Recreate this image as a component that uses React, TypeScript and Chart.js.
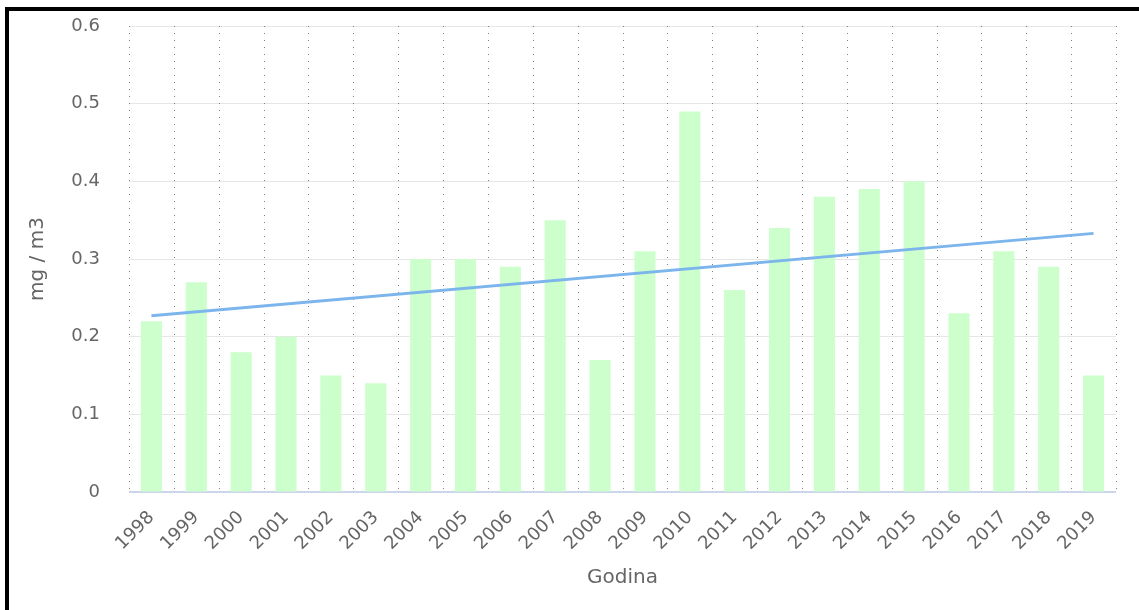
import React, { useEffect, useRef } from "react";
import { Chart, registerables } from "chart.js";

Chart.register(...registerables);

const years = ["1998","1999","2000","2001","2002","2003","2004","2005","2006","2007","2008","2009","2010","2011","2012","2013","2014","2015","2016","2017","2018","2019"];
const values = [0.22,0.27,0.18,0.20,0.15,0.14,0.30,0.30,0.29,0.35,0.17,0.31,0.49,0.26,0.34,0.38,0.39,0.40,0.23,0.31,0.29,0.15];
const trendStart = 0.227;
const trendEnd = 0.333;
const yTitle = "mg / m3";
const xTitle = "Godina";

export default function App() {
  const ref = useRef<HTMLCanvasElement | null>(null);
  useEffect(() => {
    if (!ref.current) return;
    const trend = years.map((_, i) => (i === 0 ? trendStart : i === years.length - 1 ? trendEnd : null));
    const font = "'DejaVu Sans', Verdana, sans-serif";
    const chart = new Chart(ref.current, {
      type: "bar",
      data: {
        labels: years,
        datasets: [
          {
            type: "line",
            data: trend as any,
            borderColor: "#7cb5ec",
            borderWidth: 3,
            pointRadius: 0,
            spanGaps: true,
            order: 0,
          } as any,
          {
            type: "bar",
            data: values,
            backgroundColor: "#ccffcc",
            categoryPercentage: 1,
            barPercentage: 0.47,
            order: 1,
          },
        ],
      },
      options: {
        animation: false,
        responsive: false,
        maintainAspectRatio: false,
        layout: { padding: { left: 0, top: 26, right: 23, bottom: 0 } },
        plugins: { legend: { display: false }, tooltip: { enabled: false } },
        scales: {
          x: {
            afterFit: (s: any) => { s.height = 118; },
            grid: { display: false },
            border: { display: false },
            ticks: {
              minRotation: 45,
              maxRotation: 45,
              padding: 7,
              color: "#666666",
              font: { family: font, size: 18 },
            },
            title: {
              display: true,
              text: xTitle,
              color: "#666666",
              font: { family: font, size: 20 },
              padding: { top: 0, bottom: 20 },
            },
          },
          y: {
            min: 0,
            max: 0.6,
            afterFit: (s: any) => { s.width = 129; },
            grid: {
              color: "#e6e6e6",
              drawTicks: true,
              tickLength: 24,
              tickColor: "rgba(0,0,0,0)",
              lineWidth: 1,
            },
            border: { display: false },
            ticks: {
              stepSize: 0.1,
              padding: 5,
              color: "#666666",
              font: { family: font, size: 18 },
              callback: (v: any) => (Number(v) === 0 ? "0" : Number(v).toFixed(1)),
            },
            title: {
              display: true,
              text: yTitle,
              color: "#666666",
              font: { family: font, size: 20 },
              padding: { top: 26, bottom: 0 },
            },
          },
        },
      },
      plugins: [
        {
          id: "dottedX",
          beforeDatasetsDraw(c: any) {
            const { ctx, chartArea, scales } = c;
            const xs = scales.x;
            ctx.save();
            ctx.strokeStyle = "#808080";
            ctx.lineWidth = 1;
            ctx.setLineDash([1, 6]);
            for (let i = 0; i <= years.length; i++) {
              const x = Math.round(xs.left + (i * (xs.right - xs.left)) / years.length) + 0.5;
              ctx.beginPath();
              ctx.moveTo(x, chartArea.top);
              ctx.lineTo(x, chartArea.bottom);
              ctx.stroke();
            }
            ctx.setLineDash([]);
            ctx.strokeStyle = "#ccd6eb";
            ctx.lineWidth = 2;
            ctx.beginPath();
            ctx.moveTo(chartArea.left, chartArea.bottom);
            ctx.lineTo(chartArea.right, chartArea.bottom);
            ctx.stroke();
            ctx.restore();
          },
        },
      ],
    });
    return () => chart.destroy();
  }, []);
  return (
    <div style={{ position: "absolute", left: 0, top: 0, width: 1139, height: 610, background: "#fff" }}>
      <canvas ref={ref} width={1139} height={610} style={{ position: "absolute", left: 0, top: 0 }} />
      <div style={{ position: "absolute", left: 5, top: 7, width: 4, height: 603, background: "#000" }} />
      <div style={{ position: "absolute", left: 5, top: 7, width: 1134, height: 4, background: "#000" }} />
    </div>
  );
}
